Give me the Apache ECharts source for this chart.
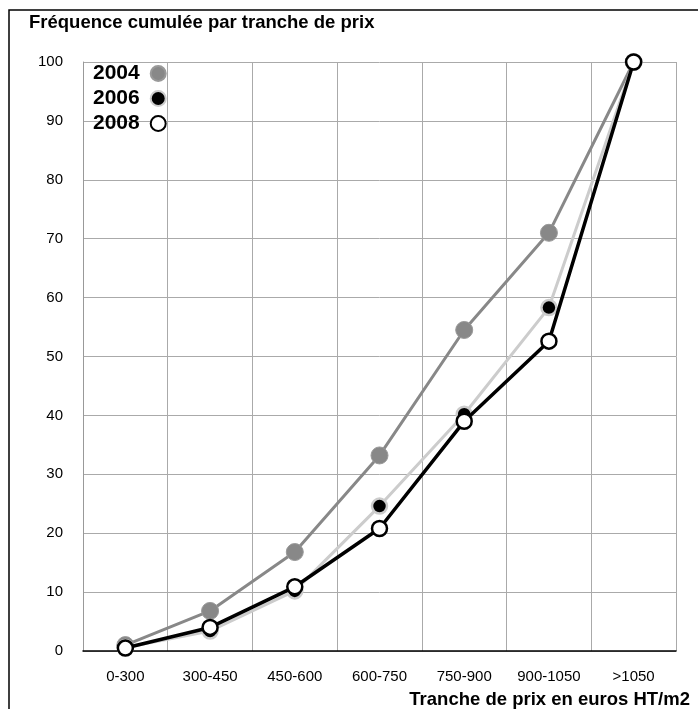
<!DOCTYPE html>
<html>
<head>
<meta charset="utf-8">
<script src="https://cdn.jsdelivr.net/npm/echarts@6/dist/echarts.min.js"></script>
<style>
  html, body { margin: 0; padding: 0; background: #fff; }
  #chart-container { width: 698px; height: 709px; }
</style>
</head>
<body>
<div id="chart-container"></div>
<script>
const categories = ['0-300', '300-450', '450-600', '600-750', '750-900', '900-1050', '>1050'];
const yTicks = [0, 10, 20, 30, 40, 50, 60, 70, 80, 90, 100];
const data2004 = [1, 6.8, 16.8, 33.2, 54.5, 71, 100];
const data2006 = [0.6, 3.4, 10.2, 24.6, 40.2, 58.3, 100];
const data2008 = [0.5, 4, 10.9, 20.8, 39, 52.6, 100];

let dom = document.getElementById('chart-container');
let myChart = echarts.init(dom, null, {
	renderer: 'canvas',
	useDirtyRect: false,
});

const font = '"Liberation Sans", Arial, sans-serif';

let option = {
	animation: false,
	backgroundColor: '#fff',
	title: {
		text: 'Fréquence cumulée par tranche de prix',
		left: 29,
		top: 13,
		padding: 0,
		textStyle: { fontFamily: font, fontWeight: 'bold', fontSize: 18.5, color: '#000' },
	},
	legend: {
		orient: 'vertical',
		left: 88,
		top: 58,
		align: 'right',
		icon: 'circle',
		itemWidth: 15,
		itemHeight: 15,
		itemGap: 4,
		selectedMode: false,
		textStyle: { fontFamily: font, fontWeight: 'bold', fontSize: 21, color: '#000', padding: [0, 6, 0, 0] },
		data: ['2004', '2006', '2008'],
	},
	graphic: [
		{
			type: 'rect',
			shape: { x: 9, y: 10, width: 700, height: 710 },
			style: { fill: 'none', stroke: '#000', lineWidth: 1.5 },
			silent: true,
		},
		{
			type: 'text',
			right: 8,
			top: 690,
			style: {
				text: 'Tranche de prix en euros HT/m2',
				font: 'bold 18.5px "Liberation Sans", Arial, sans-serif',
				fill: '#000',
			},
		},
	],
	grid: { left: 83, right: 22, top: 62, bottom: 58 },
	xAxis: {
		type: 'category',
		data: categories,
		boundaryGap: true,
		axisLine: { lineStyle: { color: '#000', width: 1.5 } },
		axisTick: { show: false },
		axisLabel: { fontFamily: font, fontSize: 15, color: '#000', margin: 18 },
		splitLine: { show: true, lineStyle: { color: '#aaa', width: 1 } },
	},
	yAxis: {
		type: 'value',
		min: yTicks[0],
		max: yTicks[yTicks.length - 1],
		interval: 10,
		axisLine: { show: true, lineStyle: { color: '#999', width: 1 } },
		axisTick: { show: false },
		axisLabel: { fontFamily: font, fontSize: 15, color: '#000', margin: 20 },
		splitLine: { show: true, lineStyle: { color: '#aaa', width: 1 } },
	},
	series: [
		{
			name: '2004',
			type: 'line',
			data: data2004,
			symbol: 'circle',
			symbolSize: 17,
			lineStyle: { color: '#888', width: 3 },
			itemStyle: { color: '#888', borderColor: '#999', borderWidth: 1 },
			z: 2,
		},
		{
			name: '2006',
			type: 'line',
			data: data2006,
			symbol: 'circle',
			symbolSize: 15,
			lineStyle: { color: '#ccc', width: 3 },
			itemStyle: { color: '#000', borderColor: '#ccc', borderWidth: 2.5 },
			z: 3,
		},
		{
			name: '2008',
			type: 'line',
			data: data2008,
			symbol: 'circle',
			symbolSize: 15,
			lineStyle: { color: '#000', width: 3.5 },
			itemStyle: { color: '#fff', borderColor: '#000', borderWidth: 2.5 },
			z: 4,
		},
	],
};

myChart.setOption(option);
window.addEventListener('resize', myChart.resize);
</script>
</body>
</html>
